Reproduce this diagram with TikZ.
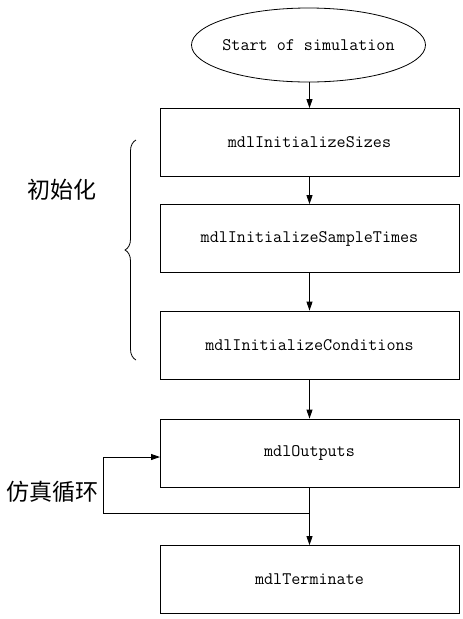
\documentclass[tikz,border=0pt]{standalone}
\usepackage{fontspec}
\newfontfamily\cjk{Noto Sans CJK SC}
\usetikzlibrary{shapes.geometric,arrows.meta,decorations.pathreplacing}

\tikzset{
  stepbox/.style={draw, thick, minimum width=299pt, minimum height=68pt,
    font=\ttfamily\fontsize{17.6}{20}\selectfont},
  flow/.style={thick, -{Triangle[length=9pt,width=6pt]}},
}

\begin{document}
\begin{tikzpicture}[x=1pt,y=-1pt]
\useasboundingbox (0,0) rectangle (463,619);
\node[draw, thick, ellipse, inner xsep=-6pt, inner ysep=0pt,
  minimum width=234pt, minimum height=74pt,
  font=\ttfamily\fontsize{17.6}{20}\selectfont] (start) at (308.5,45) {Start of simulation};
\node[stepbox] (sizes) at (309.5,142.5) {mdlInitializeSizes};
\node[stepbox] (sampletimes) at (309.5,238.5) {mdlInitializeSampleTimes};
\node[stepbox] (conditions) at (309.5,345) {mdlInitializeConditions};
\node[stepbox] (outputs) at (309.5,453) {mdlOutputs};
\node[stepbox] (terminate) at (309.5,579.5) {mdlTerminate};
\draw[flow] (start.south -| sizes.north) -- (sizes);
\draw[flow] (sizes) -- (sampletimes);
\draw[flow] (sampletimes) -- (conditions);
\draw[flow] (conditions) -- (outputs);
\draw[flow] (outputs) -- (terminate);
% loop back
\coordinate (split) at (309.5,513);
\coordinate (loopleft) at (103,513);
\coordinate (loopin) at (160,457);
\draw[flow] (split) -- (loopleft) |- (loopin);
\draw[thick, decorate, decoration={brace, amplitude=11pt}] (136,360) -- (136,140);
\node[font=\cjk\fontsize{23}{26}\selectfont] (init) at (62,190) {初始化};
\node[font=\cjk\fontsize{23}{26}\selectfont] (simloop) at (52,492) {仿真循环};
\end{tikzpicture}
\end{document}
